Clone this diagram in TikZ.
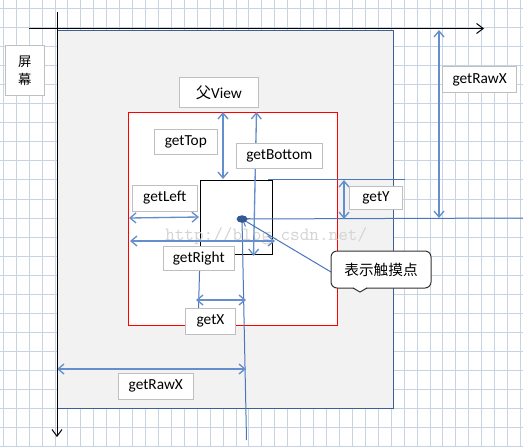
\documentclass[tikz,border=0pt]{standalone}
\usepackage{fontspec}
\setmainfont{Carlito}
\newfontfamily\cjk{Noto Sans CJK SC}
\usetikzlibrary{arrows.meta,shapes.geometric}
\definecolor{gridc}{RGB}{200,211,228}
\definecolor{scrfill}{RGB}{242,242,242}
\definecolor{scrline}{RGB}{60,96,148}
\definecolor{arrblue}{RGB}{100,143,204}
\definecolor{refblue}{RGB}{75,118,186}
\definecolor{lblline}{RGB}{191,191,191}
\definecolor{dotblue}{RGB}{52,88,148}
\definecolor{wmark}{RGB}{212,212,212}
\begin{document}
\begin{tikzpicture}[x=0.75pt,y=-0.75pt,
  font=\fontsize{11.5}{13}\selectfont,
  sz/.style 2 args={minimum width={#1*0.75pt},minimum height={#2*0.75pt}},
  lbl/.style={draw=lblline, fill=white, line width=0.75pt, inner sep=0pt, text=black},
  dimarr/.style={arrblue, line width=1pt,
     {Straight Barb[length=4.5pt,width=7.5pt]}-{Straight Barb[length=4.5pt,width=7.5pt]}},
  refline/.style={refblue, line width=0.75pt},
  axisarr/.style={black, line width=0.75pt, -{Straight Barb[length=5pt,width=7.5pt]}},
  rectbox/.style={line width=0.8pt, inner sep=0pt, anchor=north west}]
\useasboundingbox (0,0) rectangle (523,447);
% grid
\foreach \i in {0,...,40} \draw[gridc, line width=0.75pt] ({3.3+\i*12.93},0) -- ({3.3+\i*12.93},447);
\foreach \j in {0,...,23} \draw[gridc, line width=0.75pt] (0,{8.3+\j*19.07}) -- (523,{8.3+\j*19.07});
% rectangles
\node[rectbox, draw=scrline, fill=scrfill, sz={336}{378}] (screen) at (57,30) {};
\node[rectbox, draw=red, fill=white, sz={209}{213}] (parent) at (128,112) {};
\node[rectbox, draw=black, fill=white, sz={72}{74}] (child) at (200,180) {};
% watermark
\node[anchor=base west, inner sep=0pt, text=wmark, font=\ttfamily\fontsize{14}{14}\selectfont] (wm) at (165,240) {http://blog.csdn.net/};
% coordinates
\coordinate (touch) at (242,219);
\coordinate (tA) at (223,112); \coordinate (tB) at (223,179);
\coordinate (bA) at (256.5,112); \coordinate (bB) at (253.5,256);
\coordinate (lA) at (129,218); \coordinate (lB) at (199,217);
\coordinate (rA) at (130,241); \coordinate (rB) at (275,241);
\coordinate (xA) at (196,300); \coordinate (xB) at (246,300);
\coordinate (rxA) at (57,369); \coordinate (rxB) at (246,369);
\coordinate (yA) at (344,180); \coordinate (yB) at (344,219);
\coordinate (ryA) at (439,30); \coordinate (ryB) at (439,218);
\coordinate (vEnd) at (246.5,440);
\coordinate (hEnd) at (523,218);
\coordinate (ctA) at (268,179.5); \coordinate (ctB) at (405,179.5);
\coordinate (clA) at (200,254); \coordinate (clB) at (198,328);
\coordinate (calin) at (331,272);
% reference lines
\draw[refline] (touch) -- (vEnd);
\draw[refline] (touch) -- (hEnd);
\draw[refline] (ctA) -- (ctB);
\draw[refline] (clA) -- (clB);
% dimension arrows
\draw[dimarr] (tA) -- (tB);
\draw[dimarr] (bA) -- (bB);
\draw[dimarr] (lA) -- (lB);
\draw[dimarr] (rA) -- (rB);
\draw[dimarr] (xA) -- (xB);
\draw[dimarr] (rxA) -- (rxB);
\draw[dimarr] (yA) -- (yB);
\draw[dimarr] (ryA) -- (ryB);
% labels
\node[lbl, sz={39}{50}, align=center, font=\cjk\fontsize{10}{13.5}\selectfont] (scrlbl) at (24.7,70.3) {屏\\幕};
\node[lbl, sz={79}{30}] (fathlbl) at (218.8,92.3) {{\cjk 父}View};
\node[lbl, sz={63}{25}] (toplbl) at (185.8,141.8) {getTop};
\node[lbl, sz={86}{25}] (botlbl) at (279.3,156) {getBottom};
\node[lbl, sz={65}{26}] (leftlbl) at (164.8,198) {getLeft};
\node[lbl, sz={71}{24}] (rightlbl) at (198.8,258) {getRight};
\node[lbl, sz={50}{26}] (xlbl) at (210.5,321.2) {getX};
\node[lbl, sz={75}{26}] (rawxlbl) at (155.8,386.3) {getRawX};
\node[lbl, sz={53}{23}] (ylbl) at (376,197.5) {getY};
\node[lbl, sz={74}{26}] (rawylbl) at (479.7,79.5) {getRawX};
% callout
\draw[refline, -{Straight Barb[length=4.5pt,width=7pt]}] (calin) -- (touch);
\node[draw=black!80, fill=white, line width=0.75pt, rounded corners=4.5pt, sz={100}{37}, inner sep=0pt,
      font=\cjk\fontsize{11}{13}\selectfont] (callout) at (381,269.5) {表示触摸点};
\fill[white] (353,287) -- (360,292) -- (367,287) -- cycle;
\draw[black!80, line width=0.75pt] (353,288) -- (360,292) -- (367,288);
% touch point
\node[ellipse, fill=dotblue, minimum width=11*0.75pt, minimum height=7.5*0.75pt, inner sep=0pt] (dot) at (touch) {};
% axes
\coordinate (axHa) at (29,28.5); \coordinate (axHb) at (484,28.5);
\coordinate (axVa) at (57,12); \coordinate (axVb) at (57,437);
\draw[axisarr] (axHa) -- (axHb);
\draw[axisarr] (axVa) -- (axVb);
\end{tikzpicture}
\end{document}
